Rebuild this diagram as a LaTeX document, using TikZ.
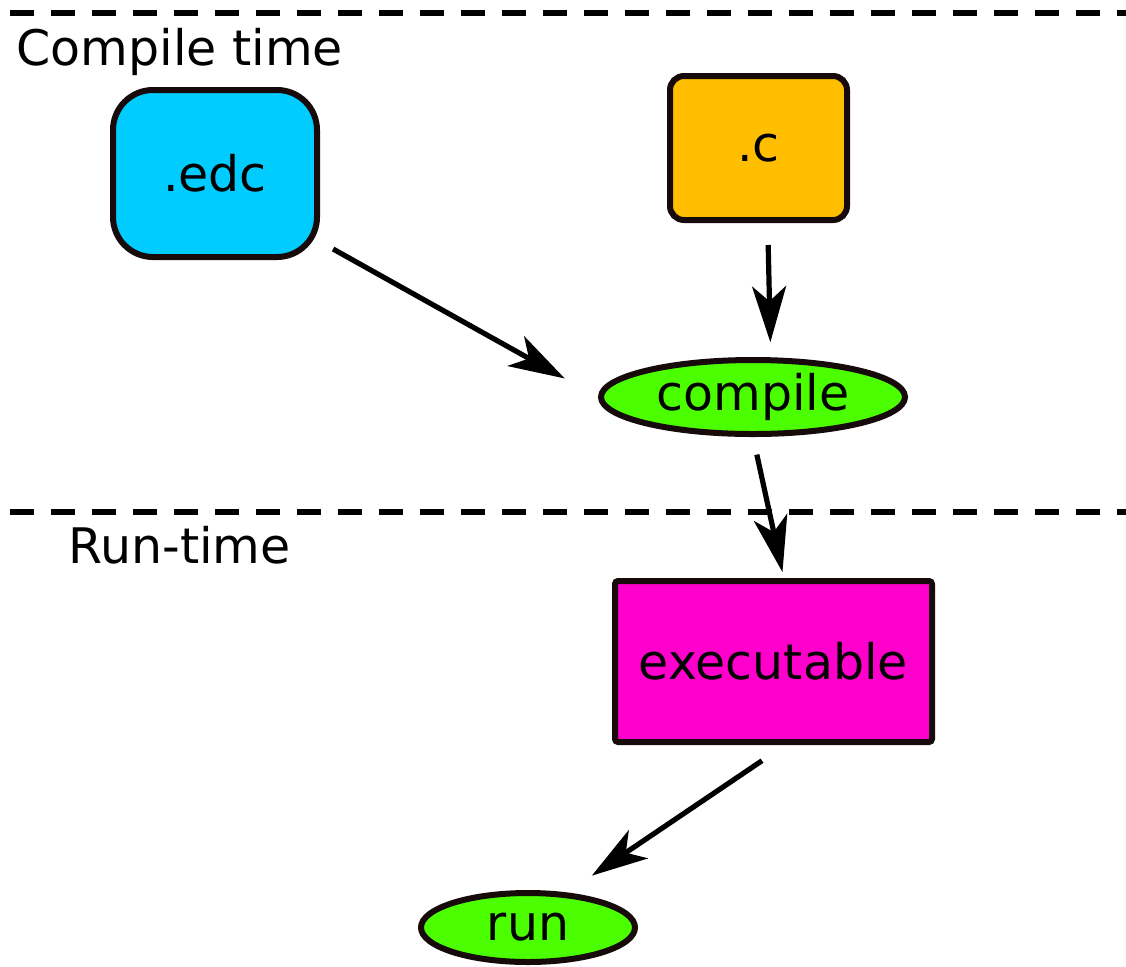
\documentclass[tikz,border=0pt]{standalone}
\usepackage{fontspec}
\setmainfont{DejaVu Sans}
\usetikzlibrary{positioning, shapes.geometric, arrows.meta}

\definecolor{edge}{RGB}{22,10,10}
\definecolor{edccol}{RGB}{0,204,255}
\definecolor{ccol}{RGB}{255,190,0}
\definecolor{actcol}{RGB}{76,255,0}
\definecolor{execcol}{RGB}{255,0,204}

\begin{document}
\begin{tikzpicture}[
	x=0.5pt, y=-0.5pt,
	every node/.style={font=\fontsize{24.5}{29}\selectfont},
	filebox/.style={rectangle, draw=edge, line width=3pt, inner sep=0pt},
	action/.style={ellipse, draw=edge, line width=3pt, fill=actcol, inner sep=0pt},
	flow/.style={-{Stealth[length=28pt, width=17pt, inset=7.5pt]}, line width=2.6pt},
	phase/.style={line width=2.6pt, dash pattern=on 12pt off 8.5pt},
	phaselabel/.style={anchor=base west, inner sep=0pt}
]
\useasboundingbox (0,0) rectangle (1126,966);

% phase separators
\coordinate (ct_left) at (10,13);
\coordinate (ct_right) at (1126,13);
\coordinate (rt_left) at (10,512);
\coordinate (rt_right) at (1126,512);
\draw[phase] (ct_left) -- (ct_right);
\draw[phase] (rt_left) -- (rt_right);

\node[phaselabel] (compiletime) at (16,65) {Compile time};
\node[phaselabel] (runtime) at (68,563) {Run-time};

% sources
\node[filebox, fill=edccol, rounded corners=20pt, minimum width=102pt, minimum height=83.5pt] (edc) at (215,173.5) {.edc};
\node[filebox, fill=ccol, rounded corners=7pt, minimum width=88.5pt, minimum height=72pt] (csrc) at (758.5,148) {.c};

\node[action, minimum width=152pt, minimum height=37pt] (compile) at (753,397) {compile};
\node[filebox, fill=execcol, rounded corners=1.5pt, minimum width=158.5pt, minimum height=80.5pt] (exec) at (773.5,661.5) {executable};
\node[action, minimum width=107pt, minimum height=34.5pt] (run) at (528,927.5) {run};

\draw[flow, shorten <=7.5pt, shorten >=19pt] (edc.-33.5) -- (compile.west);
\draw[flow, shorten <=11pt, shorten >=7.5pt] (csrc.-83) -- (compile.66);
\draw[flow, shorten <=9pt, shorten >=3pt] (compile.south) -- (exec.83);
\draw[flow, shorten <=14pt, shorten >=15pt] (exec.-82) -- (run.42);

\end{tikzpicture}
\end{document}
